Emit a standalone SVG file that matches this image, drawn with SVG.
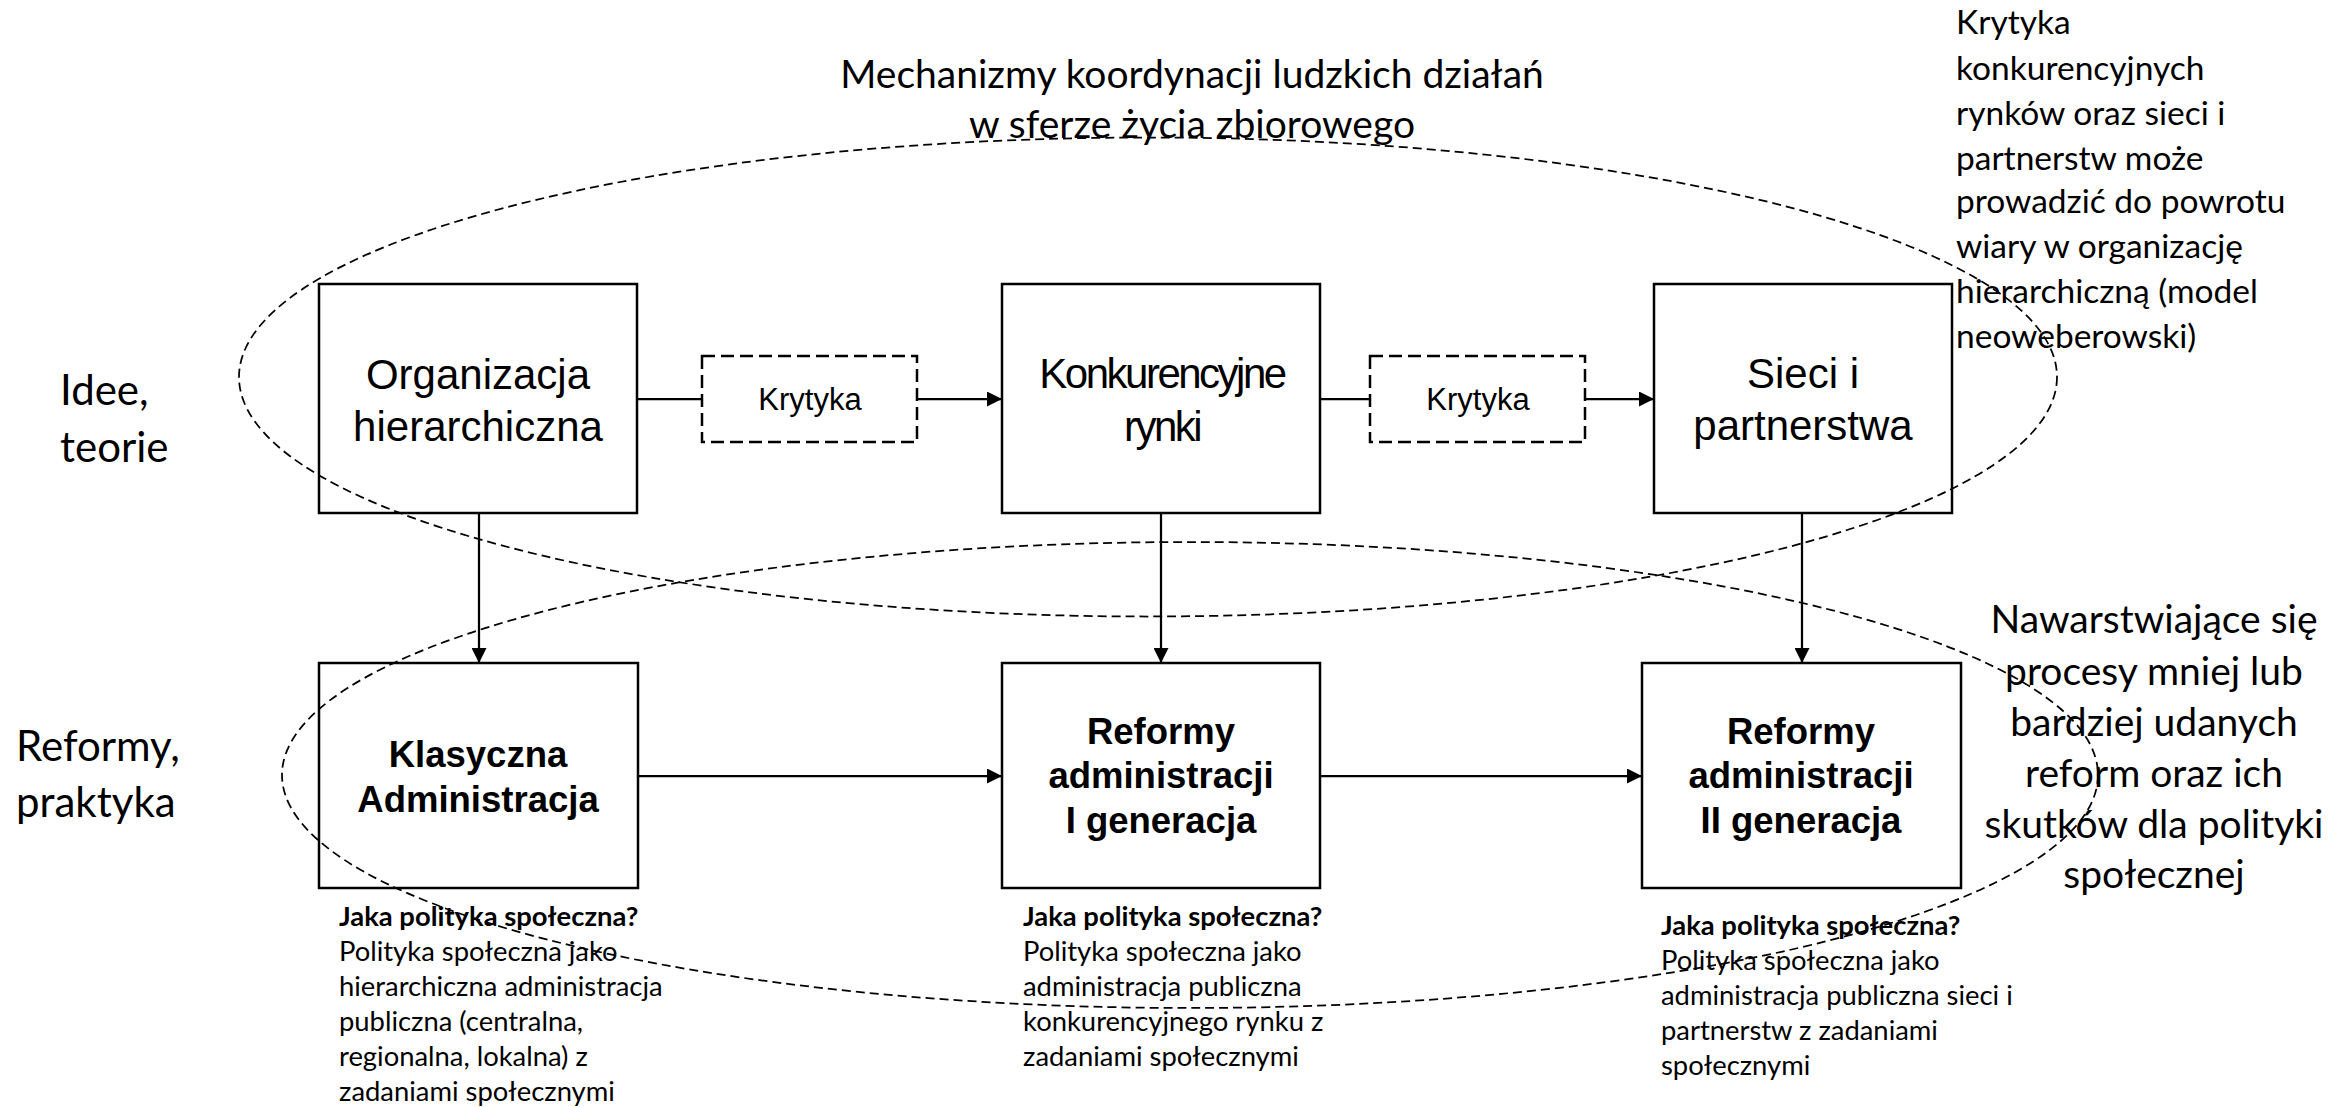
<svg xmlns="http://www.w3.org/2000/svg" width="2349" height="1107" viewBox="0 0 2349 1107">
<defs>
<style>
.box{fill:#fff;stroke:#000;stroke-width:2.5}
.dbox{fill:#fff;stroke:#000;stroke-width:2.5;stroke-dasharray:13 6}
.ell{fill:none;stroke:#000;stroke-width:1.75;stroke-dasharray:9 5}
.conn{stroke:#000;stroke-width:2.25;fill:none}
.ar{font-family:"Liberation Sans",Arial,sans-serif;fill:#000}
.cal{font-family:Lato,"Open Sans",sans-serif;fill:#000}
.big{font-size:42px}
.bold{font-size:36.5px;font-weight:bold}
.cap{font-size:27.4px}
</style>
<marker id="ah" markerUnits="userSpaceOnUse" markerWidth="15" markerHeight="15" refX="15" refY="7.5" orient="auto">
<path d="M0,0 L15,7.5 L0,15 z" fill="#000"/>
</marker>
</defs>
<rect width="2349" height="1107" fill="#fff"/>

<g id="title" class="cal" font-size="39" text-anchor="middle">
<text x="1192" y="88">Mechanizmy koordynacji ludzkich działań</text>
<text x="1192" y="138">w sferze życia zbiorowego</text>
</g>

<g id="label-idee" class="cal" font-size="42">
<text x="60" y="405">Idee,</text>
<text x="60" y="462">teorie</text>
</g>
<g id="label-reformy" class="cal" font-size="42">
<text x="16" y="761">Reformy,</text>
<text x="16" y="817">praktyka</text>
</g>

<g id="connectors">
<line class="conn" x1="637" y1="399" x2="702" y2="399"/>
<line class="conn" x1="917" y1="399" x2="1002" y2="399" marker-end="url(#ah)"/>
<line class="conn" x1="1320" y1="399" x2="1370" y2="399"/>
<line class="conn" x1="1585" y1="399" x2="1654" y2="399" marker-end="url(#ah)"/>
<line class="conn" x1="479" y1="513" x2="479" y2="663" marker-end="url(#ah)"/>
<line class="conn" x1="1161" y1="513" x2="1161" y2="663" marker-end="url(#ah)"/>
<line class="conn" x1="1802" y1="513" x2="1802" y2="663" marker-end="url(#ah)"/>
<line class="conn" x1="638" y1="776" x2="1002" y2="776" marker-end="url(#ah)"/>
<line class="conn" x1="1320" y1="776" x2="1642" y2="776" marker-end="url(#ah)"/>
</g>

<g id="node-organizacja">
<rect class="box" x="319" y="284" width="318" height="229"/>
<text class="ar big" x="478" y="389" text-anchor="middle">Organizacja</text>
<text class="ar big" x="478" y="441" text-anchor="middle">hierarchiczna</text>
</g>
<g id="node-krytyka1">
<rect class="dbox" x="702" y="356" width="215" height="86"/>
<text class="ar" font-size="31" x="810" y="410" text-anchor="middle">Krytyka</text>
</g>
<g id="node-konkurencyjne">
<rect class="box" x="1002" y="284" width="318" height="229"/>
<text class="ar big" x="1162" y="388" text-anchor="middle" letter-spacing="-2.5">Konkurencyjne</text>
<text class="ar big" x="1162" y="441" text-anchor="middle" letter-spacing="-2.5">rynki</text>
</g>
<g id="node-krytyka2">
<rect class="dbox" x="1370" y="356" width="215" height="86"/>
<text class="ar" font-size="31" x="1478" y="410" text-anchor="middle">Krytyka</text>
</g>
<g id="node-sieci">
<rect class="box" x="1654" y="284" width="298" height="229"/>
<text class="ar big" x="1803" y="388" text-anchor="middle">Sieci i</text>
<text class="ar big" x="1803" y="440" text-anchor="middle">partnerstwa</text>
</g>

<g id="node-klasyczna">
<rect class="box" x="319" y="663" width="319" height="225"/>
<text class="ar bold" x="478" y="767" text-anchor="middle">Klasyczna</text>
<text class="ar bold" x="478" y="812" text-anchor="middle">Administracja</text>
</g>
<g id="node-reformy1">
<rect class="box" x="1002" y="663" width="318" height="225"/>
<text class="ar bold" x="1161" y="744" text-anchor="middle">Reformy</text>
<text class="ar bold" x="1161" y="788" text-anchor="middle">administracji</text>
<text class="ar bold" x="1161" y="833" text-anchor="middle">I generacja</text>
</g>
<g id="node-reformy2">
<rect class="box" x="1642" y="663" width="319" height="225"/>
<text class="ar bold" x="1801" y="744" text-anchor="middle">Reformy</text>
<text class="ar bold" x="1801" y="788" text-anchor="middle">administracji</text>
<text class="ar bold" x="1801" y="833" text-anchor="middle">II generacja</text>
</g>

<g id="caption-klasyczna" class="cal cap">
<text x="339" y="926" font-weight="bold">Jaka polityka społeczna?</text>
<text x="339" y="961">Polityka społeczna jako</text>
<text x="339" y="996">hierarchiczna administracja</text>
<text x="339" y="1031">publiczna (centralna,</text>
<text x="339" y="1066">regionalna, lokalna) z</text>
<text x="339" y="1101">zadaniami społecznymi</text>
</g>
<g id="caption-reformy1" class="cal cap">
<text x="1023" y="926" font-weight="bold">Jaka polityka społeczna?</text>
<text x="1023" y="961">Polityka społeczna jako</text>
<text x="1023" y="996">administracja publiczna</text>
<text x="1023" y="1031">konkurencyjnego rynku z</text>
<text x="1023" y="1066">zadaniami społecznymi</text>
</g>
<g id="caption-reformy2" class="cal cap">
<text x="1661" y="935" font-weight="bold">Jaka polityka społeczna?</text>
<text x="1661" y="970">Polityka społeczna jako</text>
<text x="1661" y="1005">administracja publiczna sieci i</text>
<text x="1661" y="1040">partnerstw z zadaniami</text>
<text x="1661" y="1075">społecznymi</text>
</g>

<g id="note-krytyka" class="cal" font-size="33.5">
<text x="1956" y="34">Krytyka</text>
<text x="1956" y="80">konkurencyjnych</text>
<text x="1956" y="125">rynków oraz sieci i</text>
<text x="1956" y="170">partnerstw może</text>
<text x="1956" y="213">prowadzić do powrotu</text>
<text x="1956" y="258">wiary w organizację</text>
<text x="1956" y="303">hierarchiczną (model</text>
<text x="1956" y="348">neoweberowski)</text>
</g>

<g id="note-nawarstwiajace" class="cal" font-size="39" text-anchor="middle">
<text x="2154" y="633">Nawarstwiające się</text>
<text x="2154" y="685">procesy mniej lub</text>
<text x="2154" y="736">bardziej udanych</text>
<text x="2154" y="787">reform oraz ich</text>
<text x="2154" y="838">skutków dla polityki</text>
<text x="2154" y="888">społecznej</text>
</g>

<g id="ellipses">
<ellipse class="ell" cx="1148" cy="377" rx="909" ry="239.5"/>
<ellipse class="ell" cx="1190" cy="775" rx="908" ry="233"/>
</g>
</svg>
